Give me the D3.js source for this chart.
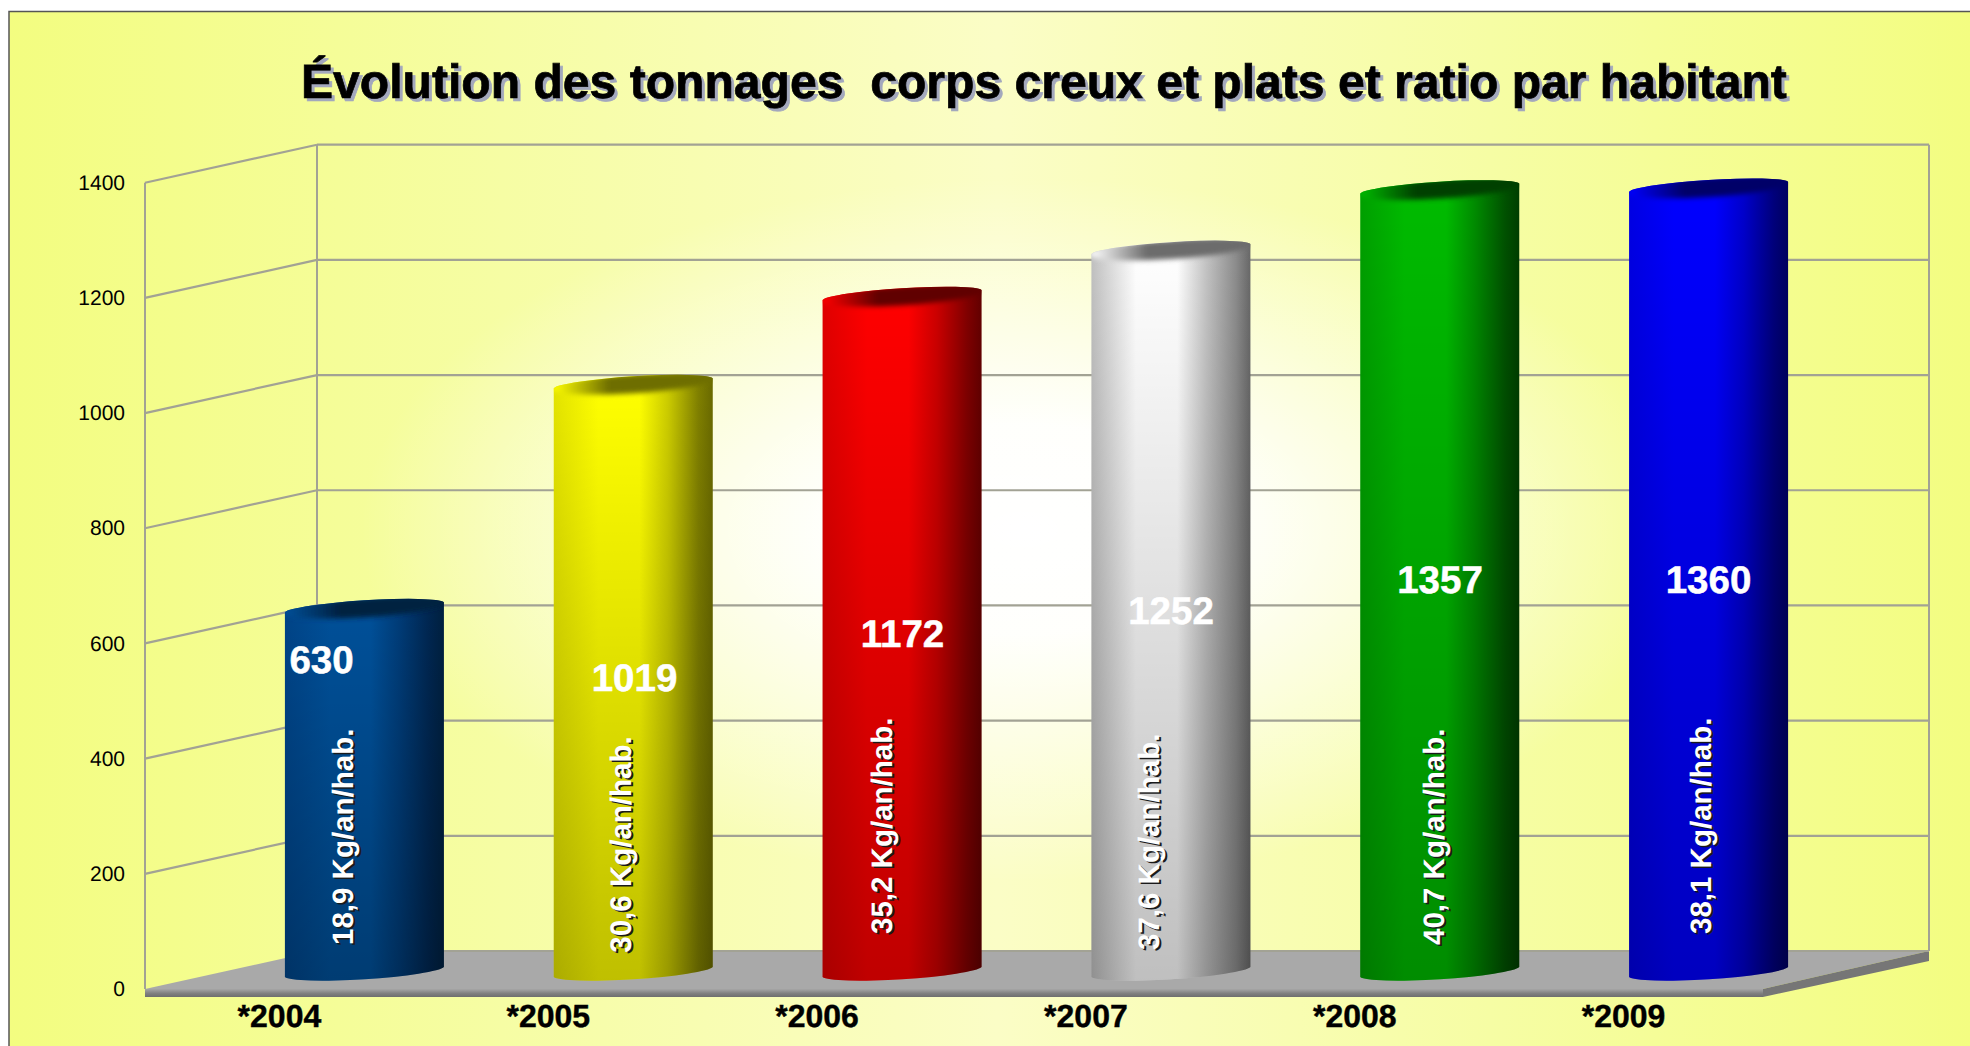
<!DOCTYPE html>
<html lang="fr">
<head>
<meta charset="utf-8">
<title>Évolution des tonnages</title>
<script src="https://cdnjs.cloudflare.com/ajax/libs/d3/7.8.5/d3.min.js"></script>
<style>
html,body{margin:0;padding:0;background:#fff;overflow:hidden}
svg{display:block}
text{font-family:"Liberation Sans",Arial,sans-serif;text-rendering:geometricPrecision}
</style>
</head>
<body>
<svg id="chart" width="1970" height="1046"></svg>
<script>
// ---- data ----
const titleText = "Évolution des tonnages  corps creux et plats et ratio par habitant";
const categories = ["*2004", "*2005", "*2006", "*2007", "*2008", "*2009"];
const tonnages = [630, 1019, 1172, 1252, 1357, 1360];
const ratios = ["18,9 Kg/an/hab.", "30,6 Kg/an/hab.", "35,2 Kg/an/hab.", "37,6 Kg/an/hab.", "40,7 Kg/an/hab.", "38,1 Kg/an/hab."];
const yTicks = [0, 200, 400, 600, 800, 1000, 1200, 1400];

// ---- styles: [left edge, light, mid, shadow, dark edge, cap] for each bar ----
const barShades = [
  ["#004488", "#005099", "#003c78", "#002650", "#00203f", "#002040"],
  ["#e4e400", "#ffff00", "#cccc00", "#808000", "#6a6a00", "#6e6e00"],
  ["#e00000", "#ff0000", "#cc0000", "#800000", "#620000", "#600000"],
  ["#c0c0c0", "#ffffff", "#c4c4c4", "#8c8c8c", "#686868", "#6c6c6c"],
  ["#00a000", "#00bb00", "#008c00", "#005200", "#003e00", "#004000"],
  ["#0000e4", "#0000ff", "#0000cc", "#00007c", "#000060", "#000068"]
];
// hand placed label anchors, as in the original chart
const valueLabelAnchor = [[321.5, 672.7], [634.5, 691], [902.5, 646.7], [1171, 624], [1440, 593], [1708.5, 592.7]];
const ratioLabelAnchor = [[352.5, 945], [630.7, 952.7], [892, 934], [1158.7, 950], [1444, 945], [1711, 934]];

// ---- geometry ----
const wall = {frontX: 145, backX: 317, rightX: 1929, cornerX: 1763};
const barOffset = 85, barWidth = 159;
const yBack  = d3.scaleLinear().domain([0, 1400]).range([951, 144.7]);
const yFront = d3.scaleLinear().domain([0, 1400]).range([989, 182.7]);
const yBar   = d3.scaleLinear().domain([0, 1400]).range([975, 168.7]);
const xBand  = d3.scaleBand().domain(categories).range([145, 1758]).padding(0);
const xBar = c => xBand(c) + xBand.bandwidth() / 2 + barOffset - barWidth / 2;

const svg = d3.select("#chart");
const defs = svg.append("defs");

// ---- background ----
const hBg = defs.append("linearGradient").attr("id", "bgH");
[[0, "#f3fd80"], [0.25, "#f6fda4"], [0.5, "#fbfdc6"], [0.75, "#f6fda4"], [1, "#f3fd80"]]
  .forEach(s => hBg.append("stop").attr("offset", s[0]).attr("stop-color", s[1]));
const rBg = defs.append("radialGradient").attr("id", "bgR")
  .attr("cx", 0.52).attr("cy", 0.5).attr("r", 0.34);
[[0, 1], [0.3, 0.95], [1, 0]].forEach(s =>
  rBg.append("stop").attr("offset", s[0]).attr("stop-color", "#ffffff").attr("stop-opacity", s[1]));

const bg = {x: 9, y: 11.5, w: 1975, h: 1050};
svg.append("rect").attr("x", bg.x).attr("y", bg.y).attr("width", bg.w).attr("height", bg.h)
  .attr("fill", "url(#bgH)").attr("stroke", "#555").attr("stroke-width", 1.5);
svg.append("rect").attr("x", bg.x + 1).attr("y", bg.y + 1).attr("width", 1952).attr("height", 1034)
  .attr("fill", "url(#bgR)");

// ---- title ----
const drawTitle = (dx, dy, fill) => svg.append("text")
  .attr("x", 301 + dx).attr("y", 98 + dy)
  .style("white-space", "pre").attr("font-size", 48.1).attr("font-weight", 700)
  .attr("fill", fill).attr("stroke", fill).attr("stroke-width", 0.7).text(titleText);
drawTitle(3, 3, "#a3a8bd");
drawTitle(0, 0, "#000");

// ---- walls ----
const gridColor = "#a2a294";
const grid = svg.append("g").attr("stroke", gridColor).attr("fill", "none");
grid.selectAll("line.back").data(yTicks.slice(1)).join("line").attr("class", "back")
  .attr("x1", wall.backX).attr("x2", wall.rightX)
  .attr("y1", d => yBack(d)).attr("y2", d => yBack(d)).attr("stroke-width", 2.2);
grid.selectAll("line.side").data(yTicks.slice(1)).join("line").attr("class", "side")
  .attr("x1", wall.frontX).attr("x2", wall.backX)
  .attr("y1", d => yFront(d)).attr("y2", d => yBack(d)).attr("stroke-width", 2.2);
[[wall.frontX, yFront], [wall.backX, yBack], [wall.rightX, yBack]].forEach(([x, s]) =>
  grid.append("line").attr("x1", x).attr("x2", x)
    .attr("y1", s(1400)).attr("y2", s(0)).attr("stroke-width", 2));

// ---- floor ----
const floorBand = defs.append("linearGradient").attr("id", "floorFront").attr("x1", 0).attr("x2", 0).attr("y1", 0).attr("y2", 1);
[[0, "#a6a6a6"], [0.55, "#808080"], [1, "#6e6e6e"]].forEach(s =>
  floorBand.append("stop").attr("offset", s[0]).attr("stop-color", s[1]));
const line = d3.line();
const floorDepth = 8;
svg.append("path").attr("fill", "#a9a9a9").attr("d", line([
  [wall.frontX, yFront(0)], [wall.backX, yBack(0)], [wall.rightX, yBack(0)], [wall.cornerX, yFront(0)]
]) + "Z");
svg.append("path").attr("fill", "#767676").attr("d", line([
  [wall.cornerX, yFront(0)], [wall.rightX, yBack(0)], [wall.rightX, yBack(0) + floorDepth + 2], [wall.cornerX, yFront(0) + floorDepth]
]) + "Z");
svg.append("rect").attr("x", wall.frontX).attr("y", yFront(0)).attr("width", wall.cornerX - wall.frontX)
  .attr("height", floorDepth).attr("fill", "url(#floorFront)");
svg.append("line").attr("x1", wall.backX).attr("x2", wall.rightX).attr("y1", yBack(0)).attr("y2", yBack(0))
  .attr("stroke", gridColor).attr("stroke-width", 2);

// ---- axes ----
const yAxis = d3.axisLeft(yFront).tickValues(yTicks).tickSize(0).tickPadding(0).tickFormat(d3.format("d"));
const yG = svg.append("g").attr("transform", "translate(125,0)").call(yAxis);
yG.select(".domain").remove();
yG.selectAll("text").attr("font-size", 21).attr("fill", "#000").attr("font-family", "Liberation Sans");

const xAxis = d3.axisBottom(xBand).tickSize(0).tickPadding(0);
const xG = svg.append("g").attr("transform", "translate(0,1004)").call(xAxis);
xG.select(".domain").remove();
xG.selectAll("text").attr("font-size", 32).attr("font-weight", 700).attr("fill", "#000")
  .attr("stroke", "#000").attr("stroke-width", 0.4).attr("font-family", "Liberation Sans");

// ---- cylinders ----
defs.append("filter").attr("id", "capBlur").attr("x", "-10%").attr("y", "-100%").attr("width", "120%").attr("height", "300%")
  .append("feGaussianBlur").attr("stdDeviation", 2.4);

const shade = defs.append("linearGradient").attr("id", "vShade").attr("x1", 0).attr("x2", 0).attr("y1", 0).attr("y2", 1);
[[0, 0], [1, 0.25]].forEach(s =>
  shade.append("stop").attr("offset", s[0]).attr("stop-color", "#000").attr("stop-opacity", s[1]));

barShades.forEach((c, i) => {
  const g = defs.append("linearGradient").attr("id", "bar" + i);
  [[0, c[0]], [0.28, c[1]], [0.54, c[1]], [0.72, c[2]], [0.91, c[3]], [1, c[4]]].forEach(s =>
    g.append("stop").attr("offset", s[0]).attr("stop-color", s[1]));
  const k = defs.append("linearGradient").attr("id", "cap" + i);
  [[0, c[1]], [0.35, c[5]], [1, c[5]]].forEach(s =>
    k.append("stop").attr("offset", s[0]).attr("stop-color", s[1]));
});

const rise = 10, rx = 80, ry = 7.5, tilt = -3.6, baseDrop = 2, capRy = 9;
const bodyPath = (c, v) => {
  const l = xBar(c), r = l + barWidth, t = yBar(v), b = yBar(0) + baseDrop;
  return `M${l},${t}A${rx},${ry} ${tilt} 0 1 ${r},${t - rise}L${r},${b - rise}A${rx},${ry + 0.5} ${tilt} 0 1 ${l},${b}Z`;
};
const capPath = (c, v) => {
  const l = xBar(c), r = l + barWidth, t = yBar(v);
  return `M${l},${t}A${rx},${ry} ${tilt} 0 1 ${r},${t - rise}A${rx},${capRy} ${tilt} 0 1 ${l},${t}Z`;
};

const barData = categories.map((c, i) => ({c, v: tonnages[i], i}));
barData.forEach(d => defs.append("clipPath").attr("id", "clip" + d.i).append("path").attr("d", bodyPath(d.c, d.v)));

const bars = svg.selectAll("g.bar").data(barData).join("g").attr("class", "bar");
bars.append("path").attr("d", d => bodyPath(d.c, d.v)).attr("fill", d => `url(#bar${d.i})`);
bars.append("path").attr("d", d => bodyPath(d.c, d.v)).attr("fill", "url(#vShade)");
bars.append("g").attr("clip-path", d => `url(#clip${d.i})`)
  .append("path").attr("d", d => capPath(d.c, d.v))
  .attr("fill", d => `url(#cap${d.i})`).attr("stroke", d => `url(#cap${d.i})`).attr("stroke-width", 4)
  .attr("filter", "url(#capBlur)");

// ---- labels ----
svg.selectAll("text.value").data(barData).join("text").attr("class", "value")
  .attr("x", d => valueLabelAnchor[d.i][0]).attr("y", d => valueLabelAnchor[d.i][1])
  .attr("text-anchor", "middle").attr("font-size", 38.5).attr("font-weight", 700).attr("fill", "#fff")
  .attr("stroke", "#fff").attr("stroke-width", 0.5)
  .text(d => tonnages[d.i]);

const drawRatio = (dx, dy, fill, cls) => svg.selectAll("text." + cls).data(barData).join("text").attr("class", cls)
  .attr("transform", d => `translate(${ratioLabelAnchor[d.i][0] + dx},${ratioLabelAnchor[d.i][1] + dy}) rotate(-90)`)
  .attr("font-size", 29.5).attr("font-weight", 700).attr("fill", fill)
  .text(d => ratios[d.i]);
drawRatio(2, 1.5, "#1a1a1a", "ratioShadow");
drawRatio(0, 0, "#fff", "ratio");
</script>
</body>
</html>
